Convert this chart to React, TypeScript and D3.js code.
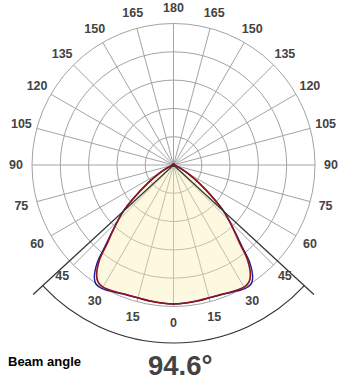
import React from "react";
import * as d3 from "d3";

// gamma angles (degrees from nadir) and relative intensities (% of outer ring)
const angles = [0, 5, 10, 15, 20, 25, 30, 33, 35, 38, 40, 42, 45, 47.5, 50, 55, 60, 65, 70, 75, 80, 85, 90];
const redValues = [98.2, 97.9, 97.5, 97.2, 97.5, 98.6, 99.6, 98.2, 94.7, 84.8, 73.5, 65.5, 55.5, 47.5, 37.5, 21.5, 11.3, 4.9, 2.1, 0.7, 0.3, 0, 0];
const blueValues = [98.2, 97.9, 97.5, 97.2, 97.7, 99.0, 100.8, 100.5, 97.5, 87.5, 75.5, 66.5, 56.0, 47.8, 37.8, 21.6, 11.3, 4.9, 2.1, 0.7, 0.3, 0, 0];
const ringValues = [20, 40, 60, 80, 100];
const spokeAngles = d3.range(0, 360, 15);
const tickLabels = [0, 15, 30, 45, 60, 75, 90, 105, 120, 135, 150, 165, 180];
const beamAngle = 94.6;

export default function App() {
  const cx = 173.5;
  const cy = 165;
  const R = 141.5;
  const r = d3.scaleLinear().domain([0, 100]).range([0, R]);
  const toRad = (d: number) => (d * Math.PI) / 180;

  const buildPts = (vals: number[]) => {
    const right = angles.map((a, i) => ({ a, v: vals[i] }));
    const left = angles
      .slice(1)
      .map((a, i) => ({ a: -a, v: vals[i + 1] }))
      .reverse();
    return [...left, ...right];
  };

  const line = d3
    .lineRadial<{ a: number; v: number }>()
    .angle((d) => Math.PI - toRad(d.a))
    .radius((d) => r(d.v))
    .curve(d3.curveCatmullRomClosed.alpha(0.5));

  const redPath = line(buildPts(redValues)) || "";
  const bluePath = line(buildPts(blueValues)) || "";

  const half = toRad(beamAngle / 2);
  const arcR = 178;
  const lineR = 191;
  const p = d3.path();
  p.moveTo(arcR * Math.cos(Math.PI / 2 - half), arcR * Math.sin(Math.PI / 2 - half));
  p.arc(0, 0, arcR, Math.PI / 2 - half, Math.PI / 2 + half, false);

  const labelR = 157.5;
  const font = "'Liberation Sans', Arial, sans-serif";

  return (
    <svg
      width={347}
      height={380}
      style={{ position: "absolute", left: 0, top: 0, background: "#fff" }}
      fontFamily={font}
    >
      <g transform={`translate(${cx},${cy})`}>
        {ringValues.map((v) => (
          <circle key={v} r={r(v)} fill="none" stroke="#a3a3a3" strokeWidth={1} />
        ))}
        {spokeAngles.map((a) => (
          <line
            key={a}
            x1={0}
            y1={0}
            x2={R * Math.sin(toRad(a))}
            y2={R * Math.cos(toRad(a))}
            stroke="#a3a3a3"
            strokeWidth={1}
          />
        ))}
        <path d={bluePath} fill="#f9f0b0" fillOpacity={0.38} stroke="none" />
        <path d={bluePath} fill="none" stroke="#1c1c9c" strokeWidth={1.4} />
        <path d={redPath} fill="none" stroke="#8e1420" strokeWidth={1.6} />
        <circle r={2} fill="#8e1420" />
        {[-1, 1].map((s) => (
          <line
            key={s}
            x1={0}
            y1={0}
            x2={s * lineR * Math.sin(half)}
            y2={lineR * Math.cos(half)}
            stroke="#333"
            strokeWidth={1.2}
          />
        ))}
        <path d={p.toString()} fill="none" stroke="#333" strokeWidth={1.2} />
        {tickLabels.flatMap((t) =>
          (t === 0 || t === 180 ? [1] : [-1, 1]).map((s) => (
            <text
              key={`${t}_${s}`}
              x={s * labelR * Math.sin(toRad(t))}
              y={labelR * Math.cos(toRad(t))}
              textAnchor="middle"
              dominantBaseline="central"
              fontSize={12.5}
              fontWeight="bold"
              fill="#434343"
            >
              {t}
            </text>
          ))
        )}
      </g>
      <text x={8} y={366} fontSize={13} fontWeight="bold" fill="#000">
        Beam angle
      </text>
      <text x={148} y={375} fontSize={27.5} fontWeight="bold" fill="#434343">
        {`${beamAngle}°`}
      </text>
    </svg>
  );
}
